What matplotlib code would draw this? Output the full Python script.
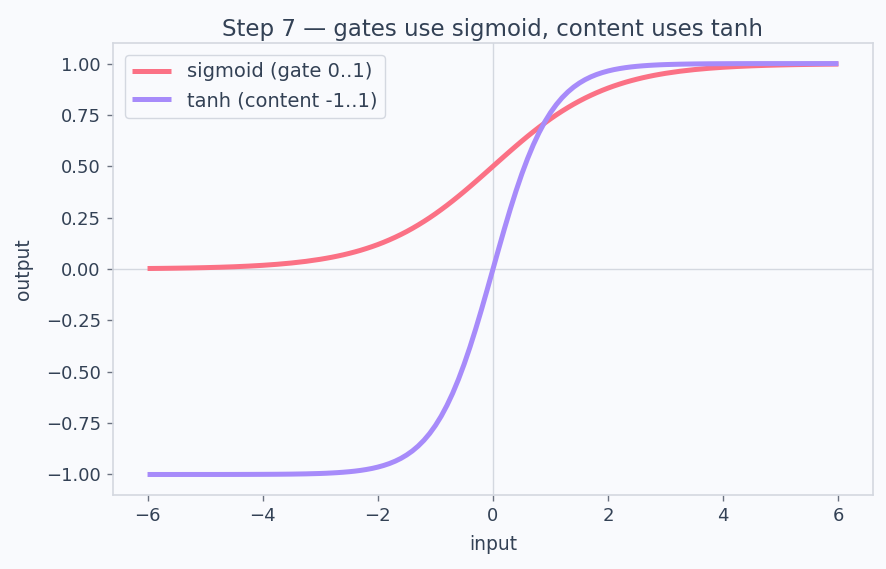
import matplotlib
matplotlib.use("Agg")
import matplotlib.pyplot as plt

# ------------------------------------------------------------
# Data
# (x step 0.25 on the flat tails, 0.1 on the steep middle)
# ------------------------------------------------------------
x_vals = [
    -6.0, -5.75, -5.5, -5.25, -5.0, -4.75, -4.5, -4.25, -4.0, -3.75, -3.5, -3.25,
    -3.0, -2.9, -2.8, -2.7, -2.6, -2.5, -2.4, -2.3, -2.2, -2.1,
    -2.0, -1.9, -1.8, -1.7, -1.6, -1.5, -1.4, -1.3, -1.2, -1.1,
    -1.0, -0.9, -0.8, -0.7, -0.6, -0.5, -0.4, -0.3, -0.2, -0.1,
    0.0, 0.1, 0.2, 0.3, 0.4, 0.5, 0.6, 0.7, 0.8, 0.9,
    1.0, 1.1, 1.2, 1.3, 1.4, 1.5, 1.6, 1.7, 1.8, 1.9,
    2.0, 2.1, 2.2, 2.3, 2.4, 2.5, 2.6, 2.7, 2.8, 2.9, 3.0,
    3.25, 3.5, 3.75, 4.0, 4.25, 4.5, 4.75, 5.0, 5.25, 5.5, 5.75, 6.0,
]

sigmoid_vals = [
    0.0025, 0.0032, 0.0041, 0.0052, 0.0067, 0.0086, 0.0110, 0.0141, 0.0180, 0.0230, 0.0293, 0.0373,
    0.0474, 0.0522, 0.0573, 0.0630, 0.0691, 0.0759, 0.0832, 0.0911, 0.0998, 0.1091,
    0.1192, 0.1301, 0.1419, 0.1545, 0.1680, 0.1824, 0.1978, 0.2142, 0.2315, 0.2497,
    0.2689, 0.2891, 0.3100, 0.3318, 0.3543, 0.3775, 0.4013, 0.4256, 0.4502, 0.4750,
    0.5000, 0.5250, 0.5498, 0.5744, 0.5987, 0.6225, 0.6457, 0.6682, 0.6900, 0.7109,
    0.7311, 0.7503, 0.7685, 0.7858, 0.8022, 0.8176, 0.8320, 0.8455, 0.8581, 0.8699,
    0.8808, 0.8909, 0.9002, 0.9089, 0.9168, 0.9241, 0.9309, 0.9370, 0.9427, 0.9478, 0.9526,
    0.9627, 0.9707, 0.9770, 0.9820, 0.9859, 0.9890, 0.9914, 0.9933, 0.9948, 0.9959, 0.9968, 0.9975,
]

tanh_vals = [
    -1.0, -1.0, -1.0, -0.9999, -0.9999, -0.9999, -0.9998, -0.9996, -0.9993, -0.9989, -0.9982, -0.9970,
    -0.9951, -0.9940, -0.9926, -0.9910, -0.9890, -0.9866, -0.9837, -0.9801, -0.9757, -0.9705,
    -0.9640, -0.9562, -0.9468, -0.9354, -0.9217, -0.9051, -0.8854, -0.8617, -0.8337, -0.8005,
    -0.7616, -0.7163, -0.6640, -0.6044, -0.5370, -0.4621, -0.3799, -0.2913, -0.1974, -0.0997,
    0.0, 0.0997, 0.1974, 0.2913, 0.3799, 0.4621, 0.5370, 0.6044, 0.6640, 0.7163,
    0.7616, 0.8005, 0.8337, 0.8617, 0.8854, 0.9051, 0.9217, 0.9354, 0.9468, 0.9562,
    0.9640, 0.9705, 0.9757, 0.9801, 0.9837, 0.9866, 0.9890, 0.9910, 0.9926, 0.9940, 0.9951,
    0.9970, 0.9982, 0.9989, 0.9993, 0.9996, 0.9998, 0.9999, 0.9999, 0.9999, 1.0, 1.0, 1.0,
]

labels = ["sigmoid (gate 0..1)", "tanh (content -1..1)"]

# ------------------------------------------------------------
# Style
# ------------------------------------------------------------
bg = "#f9fafd"
text_col = "#334155"
spine_col = "#d4d8e0"

plt.rcParams["font.family"] = ["DejaVu Sans"]
plt.rcParams["text.color"] = text_col
plt.rcParams["axes.labelcolor"] = text_col
plt.rcParams["xtick.color"] = text_col
plt.rcParams["ytick.color"] = text_col

fig = plt.figure(figsize=(8.87, 5.69), dpi=100, facecolor=bg)
ax = fig.add_axes([0.1274, 0.13, 0.8568, 0.7944])
ax.set_facecolor(bg)

ax.axhline(0, color=spine_col, lw=1, zorder=1)
ax.axvline(0, color=spine_col, lw=1, zorder=1)

ax.plot(x_vals, sigmoid_vals, color="#fb7185", lw=3.6, label=labels[0], zorder=3,
        solid_capstyle="butt")
ax.plot(x_vals, tanh_vals, color="#a78bfa", lw=3.6, label=labels[1], zorder=3,
        solid_capstyle="butt")

ax.set_xticks([-6, -4, -2, 0, 2, 4, 6])
ax.set_yticks([-1.0, -0.75, -0.5, -0.25, 0.0, 0.25, 0.5, 0.75, 1.0])
ax.set_yticklabels([f"{v:.2f}".replace("-", "\u2212") for v in ax.get_yticks()])
ax.tick_params(labelsize=13, length=4.3, width=1, pad=4.5, color="#6b7280")

for s in ax.spines.values():
    s.set_color(spine_col)
    s.set_linewidth(1.2)

ax.set_title("Step 7 \u2014 gates use sigmoid, content uses tanh", fontsize=16.5,
             color=text_col, pad=5)
ax.set_xlabel("input", fontsize=13.5, labelpad=7)
ax.set_ylabel("output", fontsize=13.5, labelpad=9)

leg = ax.legend(loc="upper left", fontsize=14, frameon=True, fancybox=True,
                edgecolor=spine_col, facecolor=bg, framealpha=1, handlelength=2.0,
                borderaxespad=0.6)

fig.savefig("out.png", dpi=100, facecolor=bg)
